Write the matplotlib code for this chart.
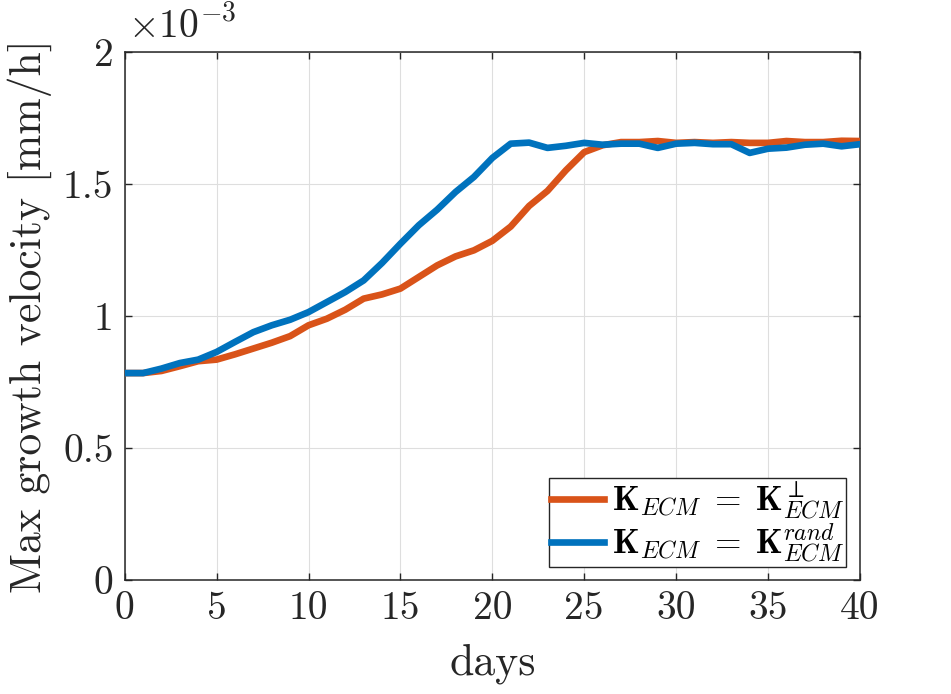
import matplotlib
matplotlib.use("Agg")
import matplotlib.pyplot as plt
import numpy as np

plt.rcParams['font.family'] = ['cmr10', 'DejaVu Serif']
plt.rcParams['mathtext.fontset'] = 'cm'
plt.rcParams['axes.unicode_minus'] = False
plt.rcParams['axes.formatter.use_mathtext'] = True

days = list(range(0, 41))
# values in units of 1e-3 mm/h
perp = [0.785, 0.785, 0.793, 0.811, 0.830, 0.836, 0.856, 0.878, 0.900, 0.925,
        0.966, 0.991, 1.025, 1.067, 1.083, 1.105, 1.149, 1.193, 1.227, 1.250,
        1.286, 1.340, 1.418, 1.475, 1.553, 1.622, 1.648, 1.660, 1.660, 1.664,
        1.657, 1.660, 1.657, 1.660, 1.657, 1.657, 1.664, 1.660, 1.660, 1.665,
        1.664]
rand = [0.785, 0.785, 0.802, 0.823, 0.836, 0.865, 0.903, 0.940, 0.966, 0.987,
        1.016, 1.054, 1.092, 1.136, 1.202, 1.275, 1.345, 1.404, 1.471, 1.528,
        1.600, 1.654, 1.658, 1.638, 1.646, 1.657, 1.650, 1.654, 1.654, 1.638,
        1.654, 1.657, 1.652, 1.652, 1.619, 1.635, 1.639, 1.650, 1.654, 1.644,
        1.652]
labels = [r'$\mathbf{K}_{ECM} \;=\; \mathbf{K}_{ECM}^{\perp}$',
          r'$\mathbf{K}_{ECM} \;=\; \mathbf{K}_{ECM}^{rand}$']
colors = ['#D95319', '#0072BD']
xticks = [0, 5, 10, 15, 20, 25, 30, 35, 40]
yticks = [0, 0.5, 1, 1.5, 2]
ytick_labels = ['0', '0.5', '1', '1.5', '2']

fig = plt.figure(figsize=(9.51, 6.94), dpi=100)
ax = fig.add_axes([0.1311, 0.1638, 0.9043 - 0.1311, 0.9246 - 0.1638])

scale = 1e-3
ax.plot(days, np.array(perp) * scale, color=colors[0], lw=4.8, label=labels[0],
        solid_joinstyle='round', zorder=3)
ax.plot(days, np.array(rand) * scale, color=colors[1], lw=4.8, label=labels[1],
        solid_joinstyle='round', zorder=3)

ax.set_xlim(0, 40)
ax.set_ylim(0, 2e-3)
ax.set_xticks(xticks)
ax.set_xticklabels([str(t) for t in xticks])
ax.set_yticks(np.array(yticks) * scale)
ax.set_yticklabels(ytick_labels)

ax.grid(True, color='#dedede', lw=0.8, zorder=0)
ax.tick_params(direction='in', length=5, width=1, labelsize=28.5, top=True,
               right=True, colors='#262626', pad=8)
for s in ax.spines.values():
    s.set_color('#262626')
    s.set_linewidth(1.1)

ax.set_xlabel('days', fontsize=31.5, color='#262626', labelpad=12)
ax.set_ylabel('Max growth velocity [mm/h]', fontsize=31.5, color='#262626', labelpad=8)

ax.text(0.004, 1.012, r'$\times 10^{-3}$', transform=ax.transAxes, fontsize=28.5,
        ha='left', va='bottom', color='#262626')

leg = ax.legend(loc='lower right', fontsize=24.5, frameon=True, fancybox=False,
                edgecolor='#262626', framealpha=1, handlelength=1.55,
                handletextpad=0.25, borderpad=0.05, labelspacing=0.0,
                borderaxespad=0.4)
leg.get_frame().set_linewidth(1.0)

fig.savefig('out.png', dpi=100)
